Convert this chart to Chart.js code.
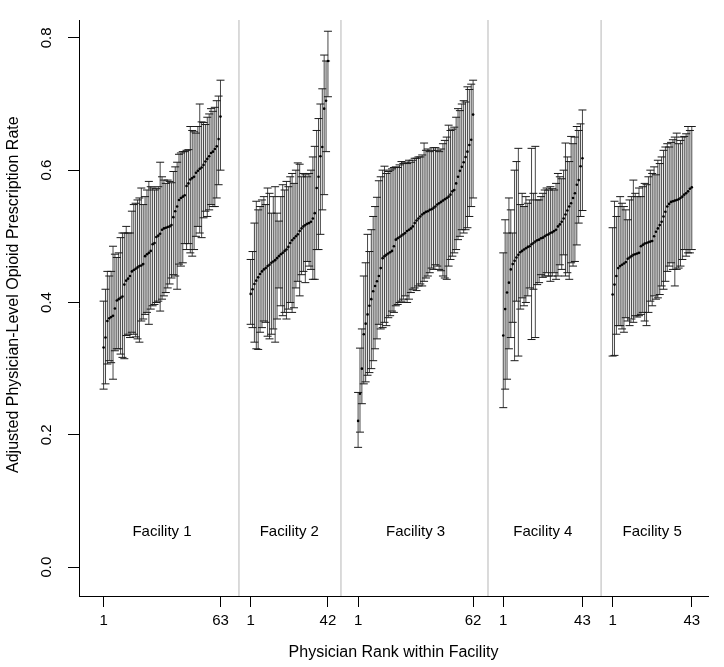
<!DOCTYPE html>
<html>
<head>
<meta charset="utf-8">
<title>Adjusted physician-level opioid prescription rate by facility</title>
<script src="https://cdn.jsdelivr.net/npm/chart.js@4.4.1/dist/chart.umd.min.js"></script>
<style>
  html, body { margin: 0; padding: 0; background: #fff; }
  #wrap { width: 724px; height: 667px; }
</style>
</head>
<body>
<div id="wrap"><canvas id="rankChart" width="724" height="667"></canvas></div>
<script>
// values, physicians sorted by estimate within each facility
const facilityNames = ['Facility 1', 'Facility 2', 'Facility 3', 'Facility 4', 'Facility 5'];

const f1Est = [.332,.347,.372,.376,.378,.380,.391,.403,.405,.407,
  .409,.427,.433,.436,.440,.447,.449,.451,.453,.455,
  .456,.458,.470,.473,.475,.478,.488,.490,.499,.501,
  .504,.510,.512,.513,.514,.515,.517,.529,.538,.545,
  .555,.558,.560,.562,.576,.580,.586,.588,.590,.596,
  .599,.602,.604,.608,.613,.617,.621,.626,.628,.632,
  .636,.647,.681];
const f1Lo = [.269,.277,.307,.312,.309,.284,.327,.330,.330,.322,
  .317,.315,.350,.352,.347,.355,.352,.348,.345,.340,
  .372,.375,.382,.385,.367,.390,.395,.397,.400,.402,
  .387,.405,.410,.415,.422,.428,.437,.442,.440,.420,
  .458,.455,.460,.489,.480,.489,.475,.470,.480,.500,
  .515,.505,.498,.528,.538,.530,.540,.548,.545,.545,
  .558,.578,.600];
const f1Hi = [.402,.420,.447,.440,.447,.485,.473,.468,.475,.498,
  .505,.505,.515,.505,.505,.538,.548,.550,.555,.558,
  .573,.548,.560,.570,.583,.575,.573,.570,.572,.575,
  .612,.590,.585,.580,.585,.583,.581,.598,.605,.612,
  .624,.626,.628,.628,.630,.631,.666,.660,.658,.656,
  .666,.700,.673,.672,.669,.680,.685,.693,.689,.695,
  .705,.712,.736];

const f2Est = [.413,.420,.428,.433,.438,.443,.447,.450,.452,.455,
  .457,.460,.462,.464,.467,.470,.473,.475,.478,.480,
  .484,.490,.494,.497,.500,.503,.508,.512,.515,.517,
  .519,.520,.522,.527,.535,.573,.590,.621,.635,.693,
  .705,.765];
const f2Lo = [.367,.362,.340,.330,.329,.355,.362,.372,.370,.349,
  .345,.352,.360,.340,.375,.422,.395,.380,.385,.375,
  .390,.400,.385,.392,.422,.432,.410,.442,.447,.430,
  .462,.455,.450,.435,.435,.480,.480,.503,.540,.563,
  .628,.711];
const f2Hi = [.465,.477,.520,.553,.540,.545,.555,.560,.548,.573,
  .565,.535,.560,.575,.535,.523,.560,.578,.570,.583,
  .575,.590,.595,.580,.600,.611,.609,.590,.595,.593,
  .590,.595,.600,.620,.636,.660,.678,.700,.723,.774,
  .765,.810];

const f3Est = [.221,.262,.300,.352,.368,.382,.395,.405,.417,.425,
  .432,.440,.452,.467,.470,.472,.474,.476,.478,.485,
  .495,.497,.499,.501,.503,.505,.508,.510,.512,.515,
  .520,.524,.527,.530,.533,.535,.537,.538,.540,.541,
  .543,.545,.548,.550,.552,.554,.556,.558,.560,.563,
  .568,.570,.580,.590,.599,.605,.612,.620,.628,.638,
  .646,.684];
const f3Lo = [.181,.204,.247,.277,.280,.290,.294,.300,.312,.330,
  .345,.367,.360,.362,.370,.365,.377,.380,.387,.385,
  .395,.397,.400,.402,.405,.410,.400,.405,.415,.420,
  .422,.418,.425,.428,.425,.432,.437,.440,.445,.452,
  .450,.457,.455,.450,.448,.440,.437,.435,.455,.465,
  .470,.475,.480,.495,.500,.510,.505,.510,.513,.530,
  .545,.558];
const f3Hi = [.264,.331,.360,.440,.460,.503,.477,.510,.530,.545,
  .559,.584,.590,.600,.606,.595,.598,.600,.602,.604,
  .605,.604,.608,.613,.610,.612,.610,.615,.612,.615,
  .618,.618,.620,.620,.623,.641,.630,.632,.628,.630,
  .634,.634,.630,.628,.632,.640,.645,.650,.668,.660,
  .662,.665,.680,.693,.690,.700,.705,.703,.726,.722,
  .730,.736];

const f4Est = [.350,.390,.415,.430,.450,.458,.463,.468,.472,.476,
  .478,.480,.482,.484,.485,.488,.490,.492,.494,.495,
  .497,.498,.500,.502,.503,.505,.506,.508,.510,.515,
  .518,.522,.527,.533,.539,.545,.550,.558,.565,.578,
  .585,.606,.618];
const f4Lo = [.241,.269,.284,.330,.347,.370,.312,.402,.319,.390,
  .407,.395,.400,.410,.422,.344,.420,.347,.427,.430,
  .442,.438,.440,.445,.440,.432,.440,.445,.435,.440,
  .457,.450,.472,.440,.445,.435,.460,.455,.462,.487,
  .520,.530,.539];
const f4Hi = [.475,.525,.505,.558,.540,.505,.600,.613,.633,.548,
  .565,.545,.560,.550,.555,.633,.565,.636,.555,.555,
  .560,.565,.570,.573,.570,.575,.572,.570,.580,.595,
  .590,.587,.600,.641,.620,.613,.651,.640,.650,.666,
  .660,.670,.691];

const f5Est = [.412,.427,.440,.452,.455,.457,.459,.461,.466,.468,
  .470,.472,.473,.474,.475,.485,.487,.489,.490,.491,
  .492,.493,.500,.507,.512,.517,.522,.530,.537,.545,
  .549,.552,.553,.554,.555,.556,.558,.560,.563,.565,
  .568,.572,.574];
const f5Lo = [.319,.320,.352,.365,.365,.360,.355,.377,.372,.365,
  .375,.370,.380,.378,.380,.382,.385,.372,.365,.385,
  .402,.395,.410,.405,.407,.412,.425,.420,.432,.447,
  .455,.460,.450,.425,.450,.452,.455,.465,.480,.470,
  .475,.475,.480];
const f5Hi = [.513,.553,.530,.545,.560,.550,.545,.540,.525,.555,
  .560,.585,.565,.560,.573,.560,.575,.580,.578,.590,
  .600,.595,.605,.593,.615,.610,.620,.630,.635,.640,
  .635,.642,.646,.650,.656,.640,.645,.650,.651,.655,
  .666,.660,.666];

const yTicks = [0, 0.2, 0.4, 0.6, 0.8];
// grey dividers between facilities, in rank-axis units
const dividerAt = [72.8, 126.9, 204.9, 264.9];

const facilities = [
  { name: facilityNames[0], est: f1Est, lo: f1Lo, hi: f1Hi },
  { name: facilityNames[1], est: f2Est, lo: f2Lo, hi: f2Hi },
  { name: facilityNames[2], est: f3Est, lo: f3Lo, hi: f3Hi },
  { name: facilityNames[3], est: f4Est, lo: f4Lo, hi: f4Hi },
  { name: facilityNames[4], est: f5Est, lo: f5Lo, hi: f5Hi }
];

const GAP = 15;          // empty ranks between two facilities
const Y_MIN = -0.0437, Y_MAX = 0.827;
const X_MIN = -12.05, X_MAX = 321.6;
const LABEL_LEVEL = 0.053;
const FONT = '"Liberation Sans", Arial, Helvetica, sans-serif';

const barPts = [], capPts = [], estPts = [];
const tickVals = [], tickText = [], labelPos = [];
let start = 1;
facilities.forEach(f => {
  const n = f.est.length;
  f.est.forEach((e, i) => {
    const x = start + i;
    barPts.push({ x: x, y: f.lo[i] }, { x: x, y: f.hi[i] }, { x: x, y: null });
    capPts.push({ x: x, y: f.lo[i] }, { x: x, y: f.hi[i] });
    estPts.push({ x: x, y: e });
  });
  tickVals.push(start, start + n - 1);
  tickText.push('1', String(n));
  labelPos.push({ x: start + (n - 1) / 2, text: f.name });
  start += n + GAP;
});

const dividerPts = [];
dividerAt.forEach(d => {
  dividerPts.push({ x: d, y: Y_MIN }, { x: d, y: Y_MAX }, { x: d, y: null });
});

const facilityLabels = {
  id: 'facilityLabels',
  afterDatasetsDraw(chart) {
    const { ctx, scales: { x, y } } = chart;
    ctx.save();
    ctx.font = '15px ' + FONT;
    ctx.fillStyle = '#000';
    ctx.textAlign = 'center';
    ctx.textBaseline = 'middle';
    labelPos.forEach(p => {
      ctx.fillText(p.text, x.getPixelForValue(p.x), y.getPixelForValue(LABEL_LEVEL));
    });
    ctx.restore();
  }
};

const ctx = document.getElementById('rankChart').getContext('2d');
const chart = new Chart(ctx, {
  type: 'scatter',
  data: {
    datasets: [
      {
        type: 'line',
        data: dividerPts,
        borderColor: '#cfcfcf',
        borderWidth: 1.5,
        pointRadius: 0,
        spanGaps: false,
        order: 10
      },
      {
        type: 'line',
        data: barPts,
        borderColor: '#333',
        borderWidth: 0.9,
        pointRadius: 0,
        spanGaps: false,
        order: 5
      },
      {
        data: capPts,
        pointStyle: 'line',
        pointRadius: 4,
        pointBorderColor: '#1a1a1a',
        pointBorderWidth: 1,
        order: 4
      },
      {
        data: estPts,
        pointStyle: 'circle',
        pointRadius: 1.3,
        pointBackgroundColor: '#000',
        pointBorderWidth: 0,
        order: 1
      }
    ]
  },
  options: {
    responsive: false,
    animation: false,
    devicePixelRatio: 1,
    layout: { padding: { top: 18, right: 16, left: 0, bottom: 0 } },
    plugins: {
      legend: { display: false },
      tooltip: { enabled: false }
    },
    scales: {
      x: {
        type: 'linear',
        min: X_MIN,
        max: X_MAX,
        afterBuildTicks: scale => { scale.ticks = tickVals.map(v => ({ value: v })); },
        afterFit: scale => { scale.height = 71; },
        grid: { drawOnChartArea: false, drawTicks: true, tickLength: 11, color: '#000', lineWidth: 1 },
        border: { display: true, color: '#000', width: 1 },
        ticks: {
          autoSkip: false,
          maxRotation: 0,
          padding: 5,
          color: '#000',
          font: { family: FONT, size: 15 },
          callback: (v, i) => tickText[i]
        },
        title: {
          display: true,
          text: 'Physician Rank within Facility',
          color: '#000',
          font: { family: FONT, size: 16 },
          padding: { top: 0, bottom: 5 }
        }
      },
      y: {
        type: 'linear',
        min: Y_MIN,
        max: Y_MAX,
        afterBuildTicks: scale => { scale.ticks = yTicks.map(v => ({ value: v })); },
        afterFit: scale => { scale.width = 79; },
        grid: { drawOnChartArea: false, drawTicks: true, tickLength: 11, color: '#000', lineWidth: 1 },
        border: { display: true, color: '#000', width: 1 },
        ticks: {
          autoSkip: false,
          minRotation: 90,
          maxRotation: 90,
          crossAlign: 'center',
          padding: 11,
          color: '#000',
          font: { family: FONT, size: 15 },
          callback: v => v.toFixed(1)
        },
        title: {
          display: true,
          // leading spaces nudge the centred title up a little, as in the original
          text: '      Adjusted Physician-Level Opioid Prescription Rate',
          color: '#000',
          font: { family: FONT, size: 16 },
          padding: { top: 4, bottom: 0 }
        }
      }
    }
  },
  plugins: [facilityLabels]
});
</script>
</body>
</html>
